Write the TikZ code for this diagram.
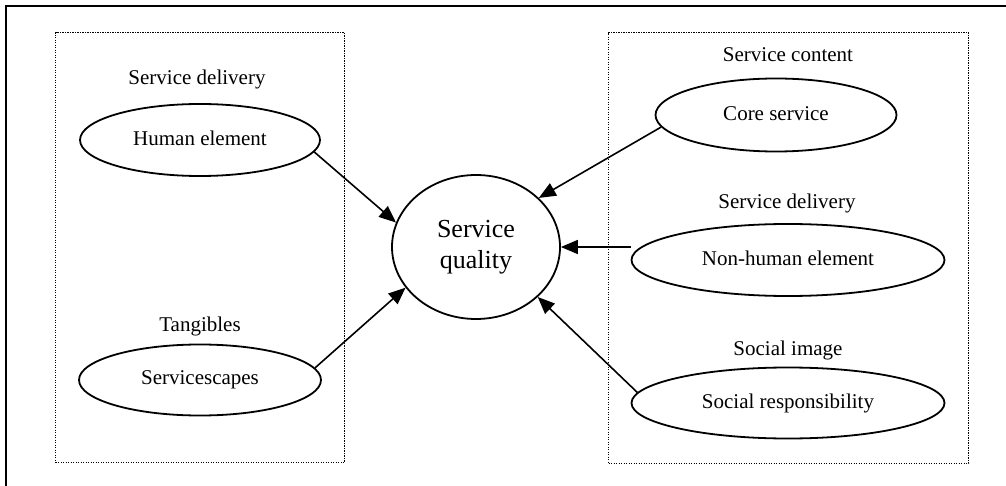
\documentclass[tikz,border=0pt]{standalone}
\usepackage{fontspec}
\setmainfont{Liberation Serif}
\usetikzlibrary{arrows.meta,shapes.geometric}
\begin{document}
\begin{tikzpicture}[x=1pt,y=-1pt,
  oval/.style={ellipse,draw,line width=1.8pt,inner sep=0pt,font=\fontsize{21}{24}\selectfont},
  lbl/.style={font=\fontsize{21}{24}\selectfont,inner sep=0pt},
  grp/.style={draw,line width=1.3pt,dash pattern=on 1.3pt off 1.2pt},
  arr/.style={line width=1.6pt,-{Triangle[length=17pt,width=14pt]}}]
\useasboundingbox (0,0) rectangle (1006,486);
% outer frame
\draw[line width=2pt] (6,486) -- (6,6) -- (1006,6);
% group boxes
\node[grp,minimum width=289pt,minimum height=430pt,anchor=north west] (lbox) at (55,32) {};
\node[grp,minimum width=360pt,minimum height=431pt,anchor=north west] (rbox) at (608,32) {};
% central node
\node[ellipse,draw,line width=1.8pt,inner sep=0pt,minimum width=168pt,minimum height=144pt,
      align=center,font=\fontsize{26}{31}\selectfont] (sq) at (476,247) {Service\\quality};
% left group
\node[lbl] (l1) at (197,79) {Service delivery};
\node[oval,minimum width=240pt,minimum height=72pt] (hum) at (200,140) {\raisebox{4pt}{Human element}};
\node[lbl] (l2) at (200,326) {Tangibles};
\node[oval,minimum width=242pt,minimum height=71pt] (scape) at (200,380) {\raisebox{3pt}{Servicescapes}};
% right group
\node[lbl] (r1) at (788,55) {Service content};
\node[oval,minimum width=241pt,minimum height=73pt] (core) at (776,115) {\raisebox{3pt}{Core service}};
\node[lbl] (r2) at (787,203) {Service delivery};
\node[oval,minimum width=313pt,minimum height=72pt] (nh) at (788,260) {\raisebox{4pt}{Non-human element}};
\node[lbl] (r3) at (788,350) {Social image};
\node[oval,minimum width=313pt,minimum height=71pt] (soc) at (788,403) {\raisebox{3pt}{Social responsibility}};
% connectors
\draw[arr] (hum.-6) -- (sq.163);
\draw[arr] (scape.6) -- (sq.210);
\draw[arr] (core.186) -- (sq.38);
\draw[arr] (nh.west |- sq.east) -- (sq.east);
\draw[arr] (soc.176) -- (sq.-39);
\end{tikzpicture}
\end{document}
